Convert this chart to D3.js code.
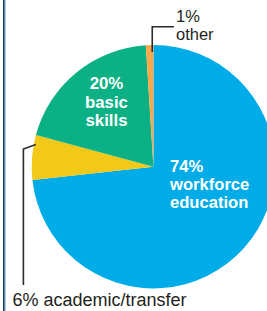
<!DOCTYPE html>
<html>
<head>
<meta charset="utf-8">
<script src="https://cdn.jsdelivr.net/npm/d3@7"></script>
<style>
  body { margin: 0; background: #fff; overflow: hidden; }
  svg { display: block; font-family: "Liberation Sans", Arial, sans-serif; }
</style>
</head>
<body>
<div id="chart"></div>
<script>
// pie order, clockwise from 12 o'clock
var categories = ["workforce education", "academic/transfer", "basic skills", "other"];
var values = [74, 6, 20, 1];
var colors = ["#00ace8", "#f2c918", "#0bb084", "#f9a94a"];

var width = 267;
var height = 311;
var cx = 153.4, cy = 166.7;
var radius = 121.7;

var svg = d3.select("#chart")
    .append("svg")
    .attr("width", width)
    .attr("height", height);

// left frame line
svg.append("rect").attr("x", 3).attr("y", 0).attr("width", 1.6).attr("height", height).attr("fill", "#0c3a62");
svg.append("rect").attr("x", 4.6).attr("y", 0).attr("width", 0.8).attr("height", height).attr("fill", "#4a86b8");

var pie = d3.pie().sort(null).value(function(d) { return d; });
var arcs = pie(values);
var arc = d3.arc().innerRadius(0).outerRadius(radius);

var g = svg.append("g")
    .attr("transform", "translate(" + cx + "," + cy + ")");

g.selectAll("path")
    .data(arcs)
    .enter()
    .append("path")
    .attr("d", arc)
    .attr("fill", function(d, i) { return colors[i]; });

function pt(angle, r) {
    return [cx + r * Math.sin(angle), cy - r * Math.cos(angle)];
}

// leader: other
var a1 = pt(arcs[3].endAngle - 0.01, radius - 7);
svg.append("path")
    .attr("d", "M" + a1[0] + "," + a1[1] + "V26.8H174")
    .attr("fill", "none")
    .attr("stroke", "#2b2b2b")
    .attr("stroke-width", 1.6);

// leader: academic/transfer
var a2 = pt(arcs[1].startAngle + 0.79 * (arcs[1].endAngle - arcs[1].startAngle), radius - 2);
svg.append("path")
    .attr("d", "M" + a2[0] + "," + a2[1] + "L23.4,149V285")
    .attr("fill", "none")
    .attr("stroke", "#2b2b2b")
    .attr("stroke-width", 1.6);

var dark = "#231f20";

var t1 = svg.append("text").attr("fill", dark).attr("font-size", 16.5);
t1.append("tspan").attr("x", 176).attr("y", 21.5).text(values[3] + "%");
t1.append("tspan").attr("x", 176).attr("y", 40).text("other");

svg.append("text")
    .attr("fill", dark)
    .attr("font-size", 18)
    .attr("x", 12.5)
    .attr("y", 306)
    .text(values[1] + "% academic/transfer");

// white labels inside the pie
var t2 = svg.append("text")
    .attr("fill", "#fff")
    .attr("font-weight", "bold")
    .attr("font-size", 16.8)
    .attr("text-anchor", "middle");
t2.append("tspan").attr("x", 106.5).attr("y", 89).text(values[2] + "%");
t2.append("tspan").attr("x", 106.5).attr("y", 107.5).text("basic");
t2.append("tspan").attr("x", 106.5).attr("y", 126).text("skills");

var t3 = svg.append("text")
    .attr("fill", "#fff")
    .attr("font-weight", "bold")
    .attr("font-size", 16.6);
t3.append("tspan").attr("x", 170).attr("y", 171.5).text(values[0] + "%");
t3.append("tspan").attr("x", 170).attr("y", 190).text("workforce");
t3.append("tspan").attr("x", 170).attr("y", 207.5).text("education");
</script>
</body>
</html>
